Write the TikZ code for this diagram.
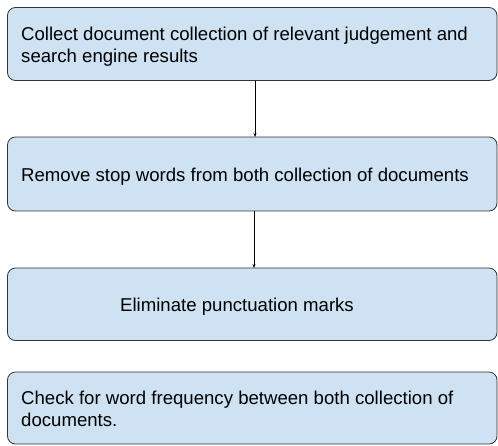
\documentclass[tikz,border=0pt]{standalone}
\usepackage{fontspec}
\setmainfont{Liberation Sans}
\usetikzlibrary{arrows.meta}
\definecolor{boxfill}{HTML}{CFE2F3}
\definecolor{boxline}{HTML}{333333}
\tikzset{
  x=1pt, y=-1pt,
  stepbox/.style={draw=boxline, fill=boxfill, line width=0.8pt, rounded corners=8pt},
  lbl/.style={anchor=base west, inner sep=0pt, font=\fontsize{18.6}{22}\selectfont, align=left},
  conn/.style={draw=black, line width=0.7pt, -{Stealth[length=4pt,width=3pt]}}
}
\begin{document}
\begin{tikzpicture}
\useasboundingbox (0,0) rectangle (498,445);
\path[stepbox] (7.5,7.5) rectangle (497,80.5);
\path[stepbox] (7.5,137) rectangle (497,211);
\path[stepbox] (7.5,268) rectangle (497,340.5);
\path[stepbox] (7.5,372) rectangle (497,444);
\node[lbl] (t1) at (21,62) {Collect document collection of relevant judgement and\\search engine results};
\node[lbl] (t2) at (21,181.5) {Remove stop words from both collection of documents};
\node[lbl] (t3) at (120,311.5) {Eliminate punctuation marks};
\node[lbl] (t4) at (21,426.5) {Check for word frequency between both collection of\\documents.};
\coordinate (a1) at (255,80.5);
\coordinate (b1) at (255,137);
\coordinate (a2) at (254,211);
\coordinate (b2) at (254,268);
\draw[conn] (a1) -- (b1);
\draw[conn] (a2) -- (b2);
\end{tikzpicture}
\end{document}
